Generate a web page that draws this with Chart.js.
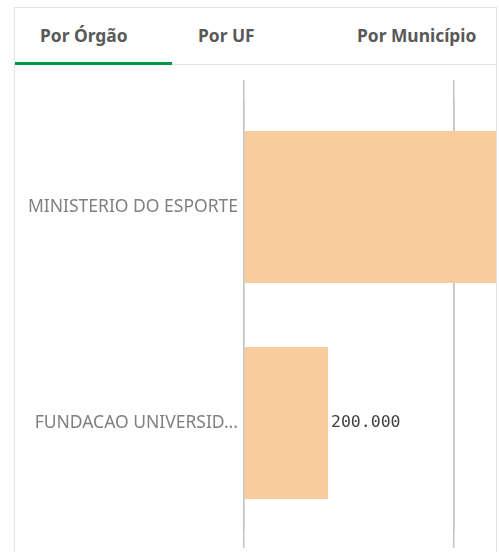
<!DOCTYPE html>
<html>
<head>
<meta charset="utf-8">
<script src="https://cdn.jsdelivr.net/npm/chart.js@4"></script>
<style>
  html, body { margin: 0; padding: 0; background: #fff; }
  body { width: 499px; height: 552px; position: relative; overflow: hidden; font-family: "Noto Sans", sans-serif; }
  #panel { position: absolute; left: 14px; top: 7px; width: 483px; height: 560px; border: 1px solid #e3e3e3; box-sizing: border-box; }
  #tabbar { position: absolute; left: 15px; top: 8px; width: 481px; height: 56px; border-bottom: 1px solid #e3e3e3; }
  .tab { position: absolute; top: 15px; font-weight: bold; font-size: 17.4px; line-height: 24px; color: #595959; white-space: nowrap; }
  #underline { position: absolute; left: 15px; top: 62px; width: 157px; height: 3px; background: #009845; }
  #wrap { position: absolute; left: 15px; top: 65px; width: 481px; height: 487px; }
</style>
</head>
<body>
<div id="panel"></div>
<div id="tabbar">
  <div class="tab" style="left:25px">Por Órgão</div>
  <div class="tab" style="left:183px">Por UF</div>
  <div class="tab" style="left:342px">Por Município</div>
</div>
<div id="underline"></div>
<div id="wrap"><canvas id="chart"></canvas></div>
<script>
const orgaos = ["MINISTERIO DO ESPORTE", "FUNDACAO UNIVERSID..."];
const valores = [1200000, 200000];
const gridTicks = [0, 500000];

const fmt = v => v.toLocaleString("pt-BR");

const valueLabels = {
  id: "valueLabels",
  afterDatasetsDraw(chart) {
    const ctx = chart.ctx;
    const meta = chart.getDatasetMeta(0);
    ctx.save();
    ctx.font = "16.5px 'DejaVu Sans Mono', monospace";
    ctx.fillStyle = "#404040";
    ctx.textBaseline = "middle";
    meta.data.forEach((bar, i) => {
      ctx.fillText(fmt(valores[i]), bar.x + 3, bar.y);
    });
    ctx.restore();
  }
};

new Chart(document.getElementById("chart").getContext("2d"), {
  type: "bar",
  data: {
    labels: orgaos,
    datasets: [{
      data: valores,
      backgroundColor: "#f9cc9d",
      borderWidth: 0,
      barPercentage: 0.704,
      categoryPercentage: 1
    }]
  },
  options: {
    indexAxis: "y",
    responsive: true,
    maintainAspectRatio: false,
    animation: false,
    layout: { padding: { top: 15, bottom: 4, left: 0, right: 0 } },
    plugins: { legend: { display: false }, tooltip: { enabled: false } },
    scales: {
      x: {
        min: 0,
        max: 600000,
        position: "bottom",
        afterBuildTicks: s => { s.ticks = gridTicks.map(v => ({ value: v })); },
        ticks: { display: false },
        border: { display: false },
        grid: { color: "#c4c4c4", lineWidth: 1.5, tickLength: 17 }
      },
      x2: {
        min: 0,
        max: 600000,
        position: "top",
        afterBuildTicks: s => { s.ticks = gridTicks.map(v => ({ value: v })); },
        ticks: { display: false },
        border: { display: false },
        grid: { color: "#c4c4c4", lineWidth: 1.5, tickLength: 19 }
      },
      y: {
        afterFit: s => { s.width = 229; },
        border: { display: false },
        grid: { display: false, drawTicks: false },
        ticks: {
          padding: 6,
          color: "#808080",
          font: { family: "'Noto Sans', sans-serif", size: 17.5 }
        }
      }
    }
  },
  plugins: [valueLabels]
});
</script>
</body>
</html>
